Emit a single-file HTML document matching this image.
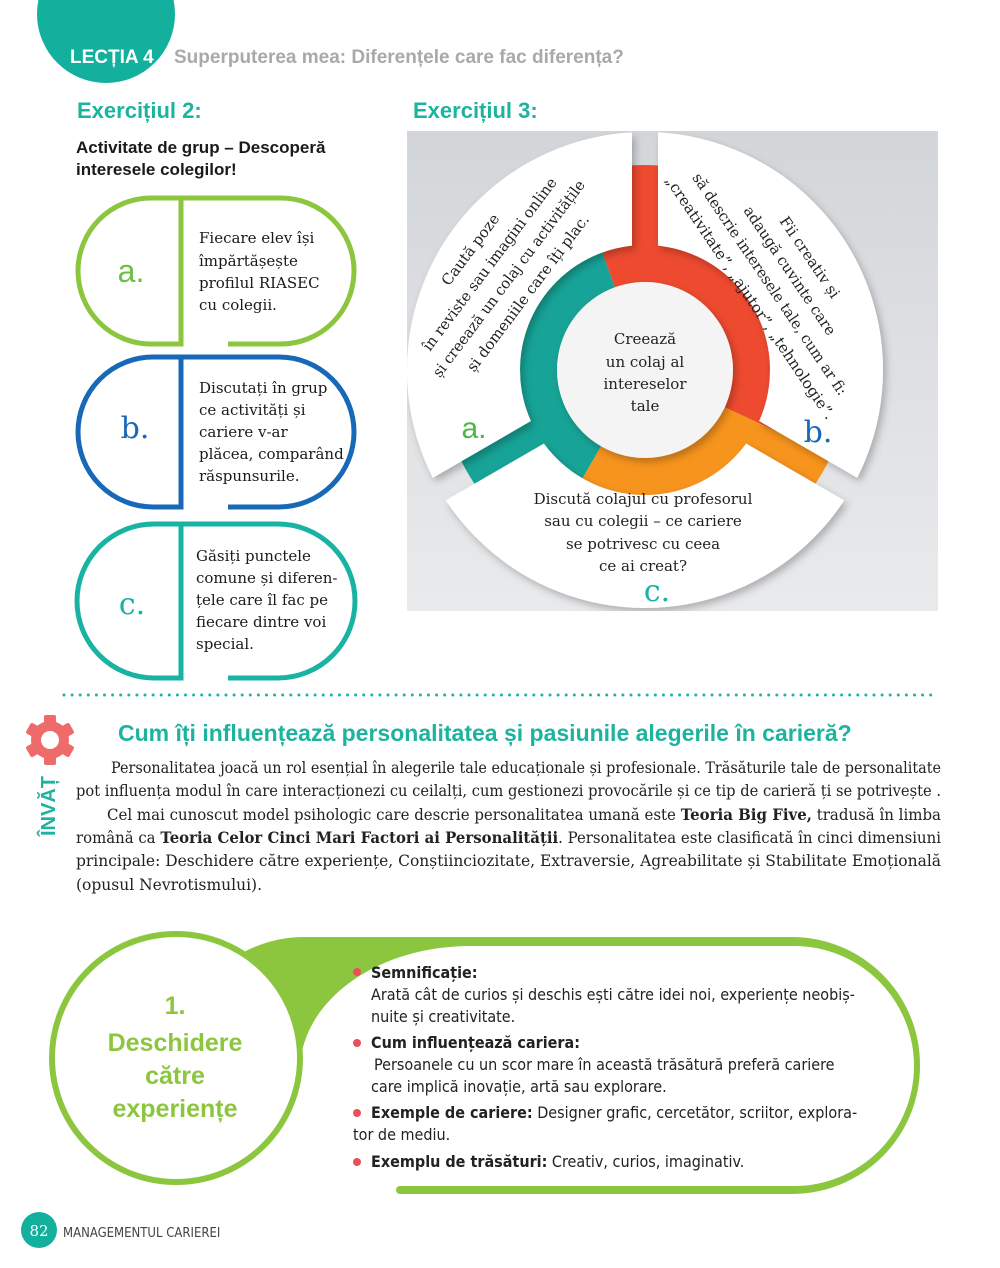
<!DOCTYPE html>
<html><head><meta charset="utf-8"><style>
html,body{margin:0;padding:0;background:#fff}
svg{display:block}
.sans{font-family:"Liberation Sans","DejaVu Sans",sans-serif}
.serif{font-family:"DejaVu Serif","Liberation Serif",serif}
.nar{font-family:"Liberation Sans Narrow","DejaVu Sans Condensed","Liberation Sans",sans-serif}
</style></head><body>
<svg width="1000" height="1268" viewBox="0 0 1000 1268" xmlns="http://www.w3.org/2000/svg">
<defs>
<linearGradient id="bg" x1="0" y1="0" x2="0" y2="1"><stop offset="0" stop-color="#d3d6d9"/><stop offset="1" stop-color="#e9eaec"/></linearGradient>
<clipPath id="pc"><rect x="407" y="131" width="531" height="480"/></clipPath>
<mask id="gm" maskUnits="userSpaceOnUse" x="380" y="90" width="580" height="560"><rect x="380" y="90" width="580" height="560" fill="#fff"/>
<g stroke="#000" stroke-width="26"><line x1="645" y1="370" x2="645" y2="100"/><line x1="645" y1="370" x2="880" y2="506"/><line x1="645" y1="370" x2="410" y2="506"/></g></mask>
<filter id="sh" filterUnits="userSpaceOnUse" x="380" y="90" width="580" height="560"><feDropShadow dx="3" dy="4" stdDeviation="4" flood-color="#000" flood-opacity="0.25"/></filter>
</defs>

<!-- header -->
<circle cx="106" cy="14" r="69" fill="#12b09d"/>
<text x="70" y="63" class="sans" font-size="19" font-weight="bold" fill="#fff">LECȚIA 4</text>
<text x="174" y="63" class="sans" font-size="19" font-weight="bold" fill="#a9a9ab">Superputerea mea: Diferențele care fac diferența?</text>

<text x="77" y="118" class="sans" font-size="22" font-weight="bold" fill="#1db39f">Exercițiul 2:</text>
<text x="76" y="153" class="sans" font-size="17" font-weight="bold" fill="#1a1a1a">Activitate de grup – Descoperă</text>
<text x="76" y="175" class="sans" font-size="17" font-weight="bold" fill="#1a1a1a">interesele colegilor!</text>

<!-- pills -->
<g fill="none" stroke-width="5">
<path stroke="#8cc63f" d="M181,198 H151 A73,73 0 0 0 151,344 H181 V198 M181,198 H281 A73,73 0 0 1 281,344 H228"/>
<path stroke="#1769b8" d="M181,357 H153 A75,75 0 0 0 153,507 H181 V357 M181,357 H279 A75,75 0 0 1 279,507 H228"/>
<path stroke="#19b3a4" d="M181,524 H154 A77,77 0 0 0 154,678 H181 V524 M181,524 H278 A77,77 0 0 1 278,678 H228"/>
</g>
<text x="131" y="282" text-anchor="middle" class="sans" font-size="32" fill="#6cbf45">a.</text>
<text x="135" y="438" text-anchor="middle" class="serif" font-size="30" fill="#1769b8">b.</text>
<text x="132" y="614" text-anchor="middle" class="serif" font-size="30" fill="#19b3a4">c.</text>
<g class="serif" font-size="15" fill="#1a1a1a">
<text x="199" y="243">Fiecare elev își</text><text x="199" y="266">împărtășește</text><text x="199" y="288">profilul RIASEC</text><text x="199" y="310">cu colegii.</text>
<text x="199" y="393">Discutați în grup</text><text x="199" y="415">ce activități și</text><text x="199" y="437">cariere v-ar</text><text x="199" y="459">plăcea, comparând</text><text x="199" y="481">răspunsurile.</text>
<text x="196" y="561">Găsiți punctele</text><text x="196" y="583">comune și diferen-</text><text x="196" y="605">țele care îl fac pe</text><text x="196" y="627">fiecare dintre voi</text><text x="196" y="649">special.</text>
</g>

<!-- exercise 3 -->
<text x="413" y="118" class="sans" font-size="22" font-weight="bold" fill="#1db39f">Exercițiul 3:</text>
<rect x="407" y="131" width="531" height="480" fill="url(#bg)"/>
<g clip-path="url(#pc)">
<path fill="#ee4a2f" d="M574.9,177.3 A205,205 0 0 1 830.7,456.7 L724.7,407.2 A88,88 0 0 0 614.9,287.3 Z"/>
<path fill="#f7941d" d="M830.7,456.7 A205,205 0 0 1 542.5,547.5 L601,446.2 A88,88 0 0 0 724.7,407.2 Z"/>
<path fill="#17a397" d="M542.5,547.5 A205,205 0 0 1 574.9,177.3 L614.9,287.3 A88,88 0 0 0 601,446.2 Z"/>
<g filter="url(#sh)"><circle cx="645" cy="370" r="181.5" fill="none" stroke="#fff" stroke-width="113" mask="url(#gm)"/></g>
<circle cx="645" cy="370" r="88" fill="#f4f4f4" filter="url(#sh)"/>
</g>
<g class="serif" font-size="15" fill="#222" text-anchor="middle">
<g transform="translate(500,272) rotate(-53)">
<text y="-32">Caută poze</text><text y="-8" textLength="212" lengthAdjust="spacingAndGlyphs">în reviste sau imagini online</text><text y="16" textLength="242" lengthAdjust="spacingAndGlyphs">și creează un colaj cu activitățile</text><text y="40" textLength="192" lengthAdjust="spacingAndGlyphs">și domeniile care îți plac.</text>
</g>
<g transform="translate(779,278) rotate(56)">
<text y="-32">Fii creativ și</text><text y="-8" textLength="152" lengthAdjust="spacingAndGlyphs">adaugă cuvinte care</text><text y="16" textLength="264" lengthAdjust="spacingAndGlyphs">să descrie interesele tale, cum ar fi:</text><text y="40" textLength="290" lengthAdjust="spacingAndGlyphs">„creativitate”, „ajutor”, „tehnologie”.</text>
</g>
<g font-size="15">
<text x="645" y="344">Creează</text><text x="645" y="367">un colaj al</text><text x="645" y="389">intereselor</text><text x="645" y="411">tale</text>
<text x="643" y="504">Discută colajul cu profesorul</text><text x="643" y="526">sau cu colegii – ce cariere</text><text x="643" y="549">se potrivesc cu ceea</text><text x="643" y="571">ce ai creat?</text>
</g>
</g>
<text x="474" y="438" text-anchor="middle" class="sans" font-size="30" fill="#4cb748">a.</text>
<text x="818" y="442" text-anchor="middle" class="serif" font-size="30" fill="#1769b8">b.</text>
<text x="657" y="601" text-anchor="middle" class="serif" font-size="30" fill="#19b3a4">c.</text>

<!-- dotted line -->
<line x1="64" y1="695" x2="935" y2="695" stroke="#1db39f" stroke-width="3" stroke-linecap="round" stroke-dasharray="0 8.1"/>

<!-- gear -->
<g transform="translate(50,740)">
<g fill="#ef6a6a">
<rect x="-6" y="-25" width="12" height="50" rx="2"/>
<rect x="-6" y="-25" width="12" height="50" rx="2" transform="rotate(60)"/>
<rect x="-6" y="-25" width="12" height="50" rx="2" transform="rotate(120)"/>
<circle r="19"/></g>
<circle r="9" fill="#fff"/>
</g>
<text transform="translate(55,806) rotate(-90)" text-anchor="middle" class="sans" font-size="20" font-weight="bold" fill="#1db39f">ÎNVĂȚ</text>

<text x="118" y="741" class="sans" font-size="23" font-weight="bold" fill="#1db39f">Cum îți influențează personalitatea și pasiunile alegerile în carieră?</text>
<g class="serif" font-size="15.5" fill="#222">
<text x="111" y="773" textLength="830" lengthAdjust="spacingAndGlyphs">Personalitatea joacă un rol esențial în alegerile tale educaționale și profesionale. Trăsăturile tale de personalitate</text>
<text x="76" y="796" textLength="865" lengthAdjust="spacingAndGlyphs">pot influența modul în care interacționezi cu ceilalți, cum gestionezi provocările și ce tip de carieră ți se potrivește .</text>
<text x="107" y="820" textLength="834" lengthAdjust="spacingAndGlyphs">Cel mai cunoscut model psihologic care descrie personalitatea umană este <tspan font-weight="bold">Teoria Big Five,</tspan> tradusă în limba</text>
<text x="76" y="843" textLength="865" lengthAdjust="spacingAndGlyphs">română ca <tspan font-weight="bold">Teoria Celor Cinci Mari Factori ai Personalității</tspan>. Personalitatea este clasificată în cinci dimensiuni</text>
<text x="76" y="866" textLength="865" lengthAdjust="spacingAndGlyphs">principale: Deschidere către experiențe, Conștiinciozitate, Extraversie, Agreabilitate și Stabilitate Emoțională</text>
<text x="76" y="890">(opusul Nevrotismului).</text>
</g>

<!-- bottom -->
<rect x="176" y="937" width="744" height="257" rx="128" fill="#8cc63f"/>
<path fill="#fff" d="M470,946 H794 A120,120 0 0 1 794,1186 H300 V1066 A170,125 0 0 1 470,946 Z"/>
<rect x="160" y="1066" width="240" height="140" fill="#fff"/>
<circle cx="400" cy="1190" r="4" fill="#8cc63f"/>
<circle cx="176" cy="1058" r="124" fill="#fff" stroke="#8cc63f" stroke-width="6"/>
<g class="sans" font-weight="bold" fill="#8cc63f" text-anchor="middle" font-size="25">
<text x="175" y="1014">1.</text><text x="175" y="1051">Deschidere</text><text x="175" y="1084">către</text><text x="175" y="1117">experiențe</text>
</g>
<g fill="#e8505b"><circle cx="357" cy="972" r="4"/><circle cx="357" cy="1043" r="4"/><circle cx="357" cy="1113" r="4"/><circle cx="357" cy="1162" r="4"/></g>
<g class="nar" font-size="16" fill="#222">
<text x="371" y="978" font-weight="bold">Semnificație:</text>
<text x="371" y="1000">Arată cât de curios și deschis ești către idei noi, experiențe neobiș-</text>
<text x="371" y="1022">nuite și creativitate.</text>
<text x="371" y="1048" font-weight="bold">Cum influențează cariera:</text>
<text x="374" y="1070">Persoanele cu un scor mare în această trăsătură preferă cariere</text>
<text x="371" y="1092">care implică inovație, artă sau explorare.</text>
<text x="371" y="1118"><tspan font-weight="bold">Exemple de cariere:</tspan> Designer grafic, cercetător, scriitor, explora-</text>
<text x="353" y="1140">tor de mediu.</text>
<text x="371" y="1167"><tspan font-weight="bold">Exemplu de trăsături:</tspan> Creativ, curios, imaginativ.</text>
</g>

<!-- footer -->
<circle cx="39" cy="1230" r="18" fill="#12b09d"/>
<text x="39" y="1236" text-anchor="middle" class="serif" font-size="15" fill="#fff">82</text>
<text x="63" y="1237" class="nar" font-size="13" fill="#444">MANAGEMENTUL CARIEREI</text>
</svg>
</body></html>
